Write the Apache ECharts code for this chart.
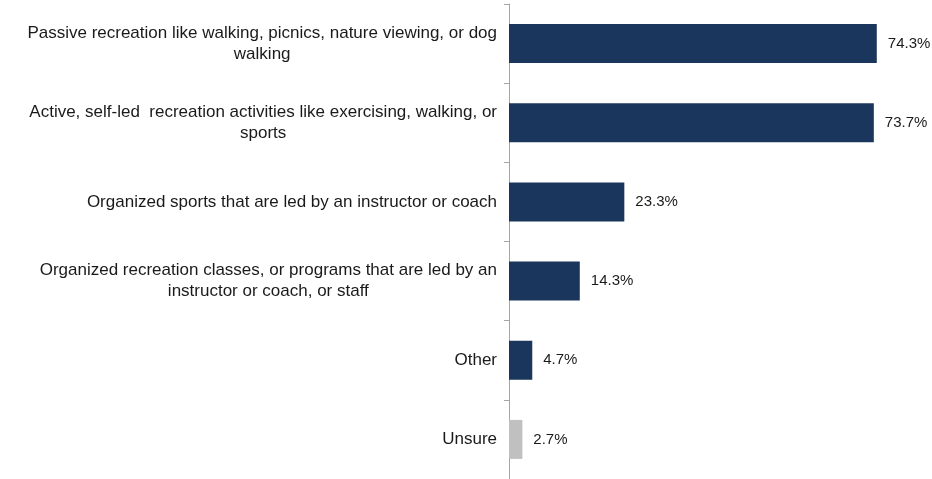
<!DOCTYPE html>
<html>
<head>
<meta charset="utf-8">
<script src="https://cdn.jsdelivr.net/npm/echarts@6/dist/echarts.min.js"></script>
<style>
  html, body { margin: 0; padding: 0; background: #ffffff; }
  #chart { width: 932px; height: 479px; }
</style>
</head>
<body>
<div id="chart"></div>
<script>
// Survey responses: types of recreation (percent of respondents)
const categories = [
  'Passive recreation like walking, picnics, nature viewing, or dog\nwalking',
  'Active, self-led  recreation activities like exercising, walking, or\nsports',
  'Organized sports that are led by an instructor or coach',
  'Organized recreation classes, or programs that are led by an\ninstructor or coach, or staff',
  'Other',
  'Unsure'
];
const values = [74.3, 73.7, 23.3, 14.3, 4.7, 2.7];

const NAVY = '#1b365d';
const GREY = '#c0c0c0';
const FONT = '"Liberation Sans", Arial, sans-serif';

const chart = echarts.init(document.getElementById('chart'), null, { renderer: 'canvas' });

chart.setOption({
  animation: false,
  backgroundColor: '#ffffff',
  grid: { left: 509, right: 27, top: 4, bottom: 0, containLabel: false },
  xAxis: {
    type: 'value',
    min: 0,
    max: 80,
    show: false
  },
  yAxis: {
    type: 'category',
    inverse: true,
    data: categories,
    axisLine: { show: true, lineStyle: { color: '#a6a6a6', width: 1 } },
    axisTick: { show: true, length: 5, lineStyle: { color: '#a6a6a6' } },
    axisLabel: {
      margin: 12,
      align: 'right',
      color: '#1a1a1a',
      fontFamily: FONT,
      fontSize: 17,
      lineHeight: 21,
      formatter: v => v.split('\n').map(line => '{c|' + line + '}').join('\n'),
      rich: {
        c: { align: 'center', fontFamily: FONT, fontSize: 17, lineHeight: 21, color: '#1a1a1a' }
      }
    },
    splitLine: { show: false }
  },
  series: [{
    type: 'bar',
    data: values,
    barWidth: 39,
    itemStyle: {
      color: p => (p.name === 'Unsure' ? GREY : NAVY)
    },
    label: {
      show: true,
      position: 'right',
      distance: 11,
      color: '#1a1a1a',
      fontFamily: FONT,
      fontSize: 15,
      formatter: p => p.value.toFixed(1) + '%'
    }
  }]
});
</script>
</body>
</html>
